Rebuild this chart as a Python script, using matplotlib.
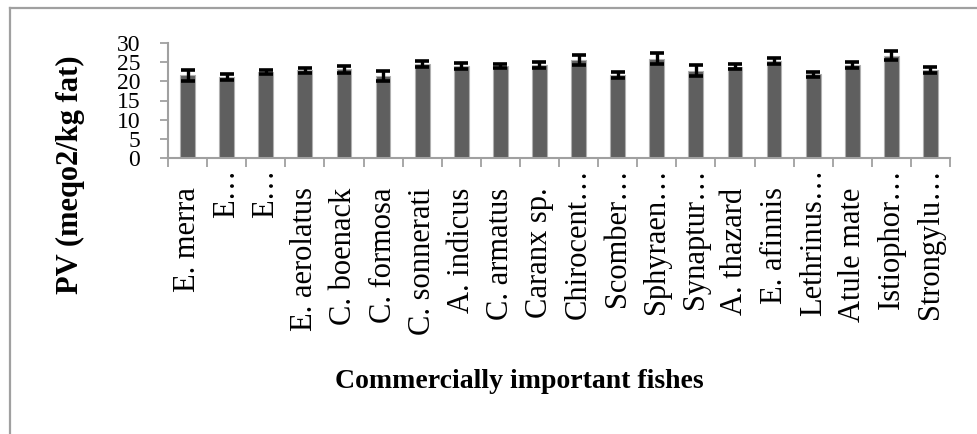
import matplotlib
matplotlib.use("Agg")
import matplotlib.pyplot as plt
from matplotlib.lines import Line2D
from matplotlib.transforms import ScaledTranslation
import numpy as np

plt.rcParams['font.family'] = ['Liberation Serif', 'DejaVu Serif']

# Peroxide value of commercially important fishes
species = ["E. merra", "E\u2026", "E\u2026", "E. aerolatus", "C. boenack",
           "C. formosa", "C. sonnerati", "A. indicus", "C. armatus", "Caranx sp.",
           "Chirocent\u2026", "Scomber\u2026", "Sphyraen\u2026", "Synaptur\u2026",
           "A. thazard", "E. afinnis", "Lethrinus\u2026", "Atule mate",
           "Istiophor\u2026", "Strongylu\u2026"]
pv_mean = [21.6, 21.1, 22.4, 22.9, 23.1, 21.4, 24.5, 24.1, 24.0, 24.3,
           25.5, 21.6, 25.9, 22.8, 23.8, 25.4, 21.8, 24.2, 26.7, 23.0]
pv_err = [1.4, 0.7, 0.5, 0.6, 0.8, 1.2, 0.75, 0.8, 0.65, 0.8,
          1.3, 0.85, 1.5, 1.5, 0.7, 0.8, 0.65, 0.75, 1.2, 0.75]
y_ticks = [0, 5, 10, 15, 20, 25, 30]

W, H = 977, 434
fig = plt.figure(figsize=(W / 100, H / 100), dpi=100)
ax = fig.add_axes([168 / W, 1 - 158 / H, (950 - 168) / W, (158 - 43) / H])

x = np.arange(len(species))
ax.bar(x, pv_mean, width=0.38, color='#5f5f5f', edgecolor='#b0b0b0', linewidth=0.8, zorder=2)
ax.errorbar(x, pv_mean, yerr=pv_err, fmt='none', ecolor='black', elinewidth=2.4,
            capsize=5.2, capthick=2.6, zorder=3)

ax.set_xlim(-0.5, len(species) - 0.5)
ax.set_ylim(0, 30)
ax.set_yticks(y_ticks)
ax.set_yticklabels([str(v) for v in y_ticks], fontsize=17)

ax.set_xticks(x)
ax.set_xticklabels(species, rotation=90, va='top', ha='center', fontsize=22)
ax.set_xticks(np.arange(len(species) + 1) - 0.5, minor=True)
ax.tick_params(axis='x', which='major', length=0, pad=7.5)
ax.tick_params(axis='x', which='minor', length=6.5, width=1.3, color='#a0a0a0')
ax.tick_params(axis='y', which='major', length=6, width=1.3, color='#a0a0a0', pad=14)

# Full-length names sit a little lower than the truncated ones
shift = ScaledTranslation(0, -0.19, fig.dpi_scale_trans)
for lab in ax.get_xticklabels():
    if not lab.get_text().endswith("\u2026"):
        lab.set_transform(lab.get_transform() + shift)

for side in ('top', 'right'):
    ax.spines[side].set_visible(False)
for side in ('left', 'bottom'):
    ax.spines[side].set_color('#a0a0a0')
    ax.spines[side].set_linewidth(1.5)

fig.text(70 / W, 1 - 175 / H, "PV (meqo2/kg fat)", rotation=90, ha='center', va='center',
         fontsize=22, fontweight='bold')
fig.text(519 / W, 1 - 382 / H, "Commercially important fishes", ha='center', va='center',
         fontsize=20, fontweight='bold')

# Outer chart-area border
fig.add_artist(Line2D([10 / W, 10 / W], [0, 1 - 8 / H], color='#a0a0a0', linewidth=1.6))
fig.add_artist(Line2D([10 / W, 1], [1 - 8 / H, 1 - 8 / H], color='#a0a0a0', linewidth=1.6))

fig.savefig("out.png", dpi=100)
